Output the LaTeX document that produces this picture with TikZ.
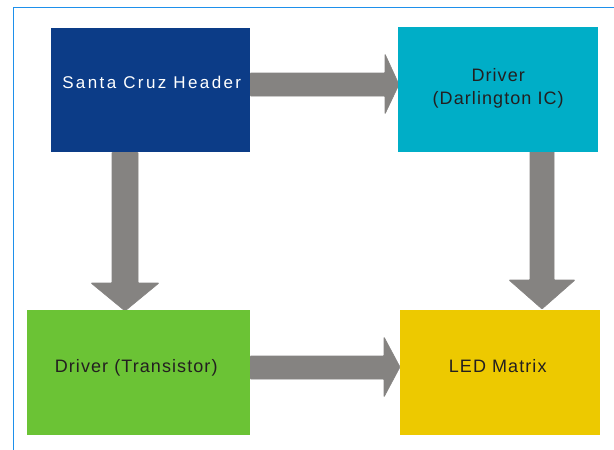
\documentclass[tikz,border=0pt]{standalone}
\usepackage{fontspec}
\setmainfont{Liberation Sans}
\newfontfamily\lblfont[LetterSpace=6]{Liberation Sans}
\newfontfamily\hdrfont[LetterSpace=14]{Liberation Sans}
\definecolor{hdrblue}{HTML}{0C3C87}
\definecolor{darcyan}{HTML}{00AEC7}
\definecolor{tragreen}{HTML}{6BC335}
\definecolor{ledyellow}{HTML}{EDC900}
\definecolor{arrgrey}{HTML}{858381}
\definecolor{frameblue}{RGB}{30,144,235}
\definecolor{txtdark}{HTML}{231F20}
\tikzset{
  box/.style={rectangle, inner sep=0pt, anchor=north west},
  txt/.style={text=txtdark, font=\lblfont\fontsize{18}{23}\selectfont, align=center, inner sep=0pt},
  arr/.style={fill=arrgrey, draw=arrgrey, line width=0.6pt, line join=round, rounded corners=0.8pt},
  frameline/.style={fill=frameblue}
}
\begin{document}
\begin{tikzpicture}[x=1pt,y=-1pt]
\useasboundingbox (0,0) rectangle (614,450);
\fill[frameline] (12.6,6.6) rectangle (14.4,450);
\fill[frameline] (12.6,6.6) rectangle (614,8.4);
% arrows
\fill[arr] (250,73) -- (385,73) -- (385,54) -- (399,84.5) -- (385,114) -- (385,96) -- (250,96) -- cycle;
\fill[arr] (112,152) -- (112,283) -- (91,283) -- (125,311) -- (159,283) -- (138,283) -- (138,152) -- cycle;
\fill[arr] (530,151) -- (530,280) -- (509,280) -- (542,309) -- (575,280) -- (554,280) -- (554,151) -- cycle;
\fill[arr] (250,356) -- (384,356) -- (384,337) -- (400,367) -- (384,397) -- (384,379) -- (250,379) -- cycle;
% boxes
\node[box, fill=hdrblue, minimum width=199pt, minimum height=124pt,
  label={[text=white, font=\hdrfont\fontsize{17}{20}\selectfont, inner sep=0pt, xshift=1pt, yshift=8pt]center:Santa Cruz Header}] (hdr) at (51,28) {};
\node[box, fill=darcyan, minimum width=200pt, minimum height=125pt,
  label={[txt, yshift=1pt]center:Driver\\(Darlington IC)}] (dar) at (398,27) {};
\node[box, fill=tragreen, minimum width=223pt, minimum height=125pt,
  label={[txt, xshift=-2.5pt, yshift=4.7pt]center:Driver (Transistor)}] (tra) at (27,310) {};
\node[box, fill=ledyellow, minimum width=200pt, minimum height=125pt,
  label={[txt, xshift=-2.5pt, yshift=7pt]center:LED Matrix}] (led) at (400,310) {};
\end{tikzpicture}
\end{document}
